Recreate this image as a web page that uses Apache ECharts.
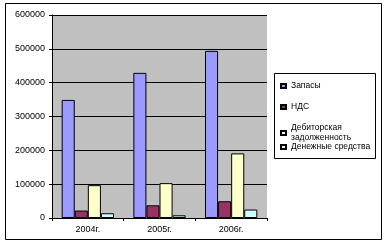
<!DOCTYPE html>
<html>
<head>
<meta charset="utf-8">
<script src="https://cdn.jsdelivr.net/npm/echarts@6/dist/echarts.min.js"></script>
<style>html,body{margin:0;padding:0;background:#fff;}#c{width:387px;height:245px;}</style>
</head>
<body>
<div id="c"></div>
<script>
var years = ['2004г.', '2005г.', '2006г.'];
var zapasy = [349000, 429000, 494000];
var nds = [22000, 37500, 49500];
var debitor = [97000, 103000, 191000];
var dengi = [14000, 8000, 25000];

var font = 'Liberation Sans, Arial, sans-serif';
var chart = echarts.init(document.getElementById('c'));

function bar(name, data, color) {
  return {
    name: name, type: 'bar', data: data,
    barGap: '0%', barCategoryGap: '27%',
    itemStyle: {color: color, borderColor: '#000', borderWidth: 1},
    animation: false
  };
}

var legendText = {fontSize: 8.5, color: '#000', fontFamily: font, lineHeight: 10};

option = {
  animation: false,
  grid: {left: 52, top: 15, right: 120, bottom: 27, show: true, backgroundColor: '#c0c0c0', borderWidth: 0},
  xAxis: {
    type: 'category', data: years,
    axisLine: {lineStyle: {color: '#000', width: 1}},
    axisTick: {show: true, length: 3, lineStyle: {color: '#000'}},
    axisLabel: {fontSize: 9, color: '#000', fontFamily: font, margin: 7}
  },
  yAxis: {
    type: 'value', min: 0, max: 600000, interval: 100000,
    axisLine: {show: true, lineStyle: {color: '#000', width: 1}},
    axisTick: {show: true, length: 3, lineStyle: {color: '#000'}},
    splitLine: {lineStyle: {color: '#000', width: 1}},
    axisLabel: {fontSize: 9, color: '#000', fontFamily: font, margin: 7, formatter: function (v) { return String(v); }}
  },
  legend: [
    {
      orient: 'vertical', left: 275, top: 76, itemGap: 11,
      itemWidth: 5, itemHeight: 4, icon: 'rect',
      data: ['Запасы', 'НДС', 'Дебиторская\nзадолженность'],
      textStyle: legendText, selectedMode: false
    },
    {
      orient: 'vertical', left: 275, top: 137, itemWidth: 5, itemHeight: 4, icon: 'rect',
      data: ['Денежные средства'],
      textStyle: legendText, selectedMode: false
    }
  ],
  graphic: [
    {type: 'rect', shape: {x: 5.5, y: 3.5, width: 376, height: 236}, style: {fill: 'none', stroke: '#000', lineWidth: 1}},
    {type: 'rect', shape: {x: 274.5, y: 73.5, width: 101, height: 85}, style: {fill: 'none', stroke: '#000', lineWidth: 1}}
  ],
  series: [
    bar('Запасы', zapasy, '#9999ff'),
    bar('НДС', nds, '#993366'),
    bar('Дебиторская\nзадолженность', debitor, '#ffffcc'),
    bar('Денежные средства', dengi, '#ccffff')
  ]
};

chart.setOption(option);
</script>
</body>
</html>
